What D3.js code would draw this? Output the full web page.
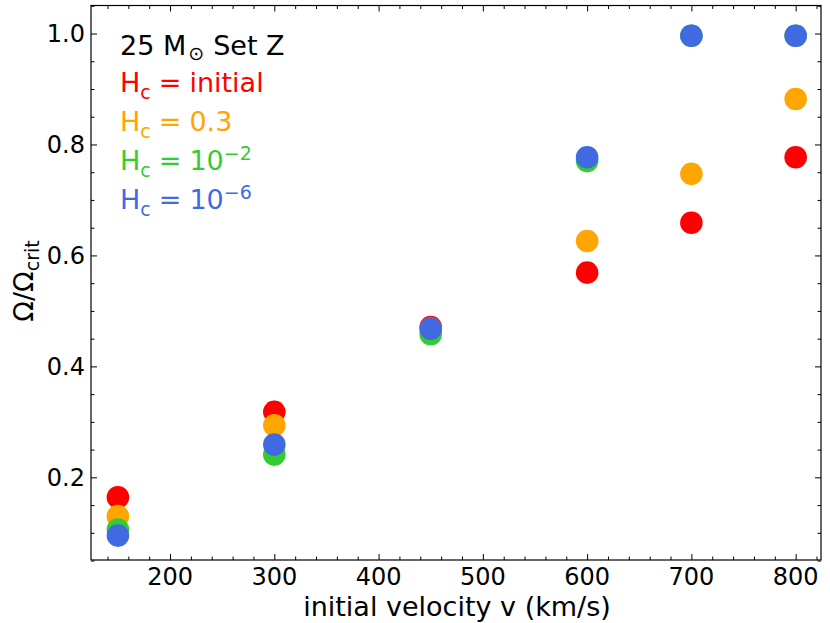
<!DOCTYPE html>
<html>
<head>
<meta charset="utf-8">
<script src="https://cdn.jsdelivr.net/npm/d3@7"></script>
<style>
  body { margin: 0; background: #fff; }
  text { font-family: "DejaVu Sans", sans-serif; }
</style>
</head>
<body>
<div id="chart"></div>
<script>
// values
const velocities = [150, 300, 450, 600, 700, 800];
const hcInitial = [0.164, 0.318, 0.471, 0.569, 0.659, 0.777];
const hc03 = [0.130, 0.294, 0.468, 0.626, 0.747, 0.882];
const hc1e2 = [0.106, 0.241, 0.458, 0.770, 0.996, 0.996];
const hc1e6 = [0.095, 0.259, 0.468, 0.777, 0.996, 0.996];
const xTicks = [200, 300, 400, 500, 600, 700, 800];
const yTicks = [0.2, 0.4, 0.6, 0.8, 1.0];

const series = [
  { vals: hcInitial, color: "#ff0000" },
  { vals: hc03, color: "#ffa500" },
  { vals: hc1e2, color: "#32cd32" },
  { vals: hc1e6, color: "#4169e1" }
];

const W = 830, H = 623;
const mLeft = 91, mRight = 821, mTop = 5.5, mBottom = 560;

const svg = d3.select("#chart").append("svg").attr("width", W).attr("height", H);

const x = d3.scaleLinear().domain([124.2, 824.3]).range([mLeft, mRight]);
const y = d3.scaleLinear().domain([0.051, 1.0505]).range([mBottom, mTop]);

const xMinor = d3.range(140, 821, 20).filter(v => v % 100 !== 0);
const yMinor = d3.range(0.05, 1.051, 0.05).map(v => +v.toFixed(2)).filter(v => Math.round(v * 100) % 20 !== 0);

// ticks inward on all four sides
function ticks(axisFn, scale, vals, size, tr) {
  const g = svg.append("g").attr("transform", tr)
    .call(axisFn(scale).tickValues(vals).tickSize(-size).tickFormat(""));
  g.select(".domain").remove();
  g.selectAll("line").attr("stroke", "#000").attr("stroke-width", 1);
}
ticks(d3.axisBottom, x, xTicks, 6, `translate(0,${mBottom})`);
ticks(d3.axisBottom, x, xMinor, 3.5, `translate(0,${mBottom})`);
ticks(d3.axisTop, x, xTicks, 6, `translate(0,${mTop})`);
ticks(d3.axisTop, x, xMinor, 3.5, `translate(0,${mTop})`);
ticks(d3.axisLeft, y, yTicks, 6, `translate(${mLeft},0)`);
ticks(d3.axisLeft, y, yMinor, 3.5, `translate(${mLeft},0)`);
ticks(d3.axisRight, y, yTicks, 6, `translate(${mRight},0)`);
ticks(d3.axisRight, y, yMinor, 3.5, `translate(${mRight},0)`);

// tick labels
svg.append("g").selectAll("text").data(xTicks).enter().append("text")
  .attr("x", d => x(d)).attr("y", 585).attr("text-anchor", "middle")
  .attr("font-size", 24).text(d => d);
svg.append("g").selectAll("text").data(yTicks).enter().append("text")
  .attr("x", 85).attr("y", d => y(d) + 8.7).attr("text-anchor", "end")
  .attr("font-size", 24).text(d => d.toFixed(1));

// points
series.forEach(s => {
  svg.append("g").selectAll("circle").data(velocities).enter().append("circle")
    .attr("cx", d => x(d)).attr("cy", (d, i) => y(s.vals[i]))
    .attr("r", 11.3).attr("fill", s.color);
});

// frame
svg.append("rect").attr("x", mLeft).attr("y", mTop)
  .attr("width", mRight - mLeft).attr("height", mBottom - mTop)
  .attr("fill", "none").attr("stroke", "#000").attr("stroke-width", 1.2);

// axis labels
svg.append("text").attr("x", 457).attr("y", 616)
  .attr("text-anchor", "middle").attr("font-size", 27)
  .text("initial velocity v (km/s)");

const yl = svg.append("text").attr("transform", "translate(33,281) rotate(-90)")
  .attr("text-anchor", "middle").attr("font-size", 27);
yl.append("tspan").text("Ω/Ω");
yl.append("tspan").attr("dy", 6).attr("font-size", 19).text("crit");

// legend text
const title = svg.append("text").attr("x", 120).attr("y", 55).attr("font-size", 27).attr("fill", "#000");
title.append("tspan").text("25 M");
title.append("tspan").attr("dx", 2).attr("dy", 5).attr("font-size", 19).text("\u2299");
title.append("tspan").attr("dx", 9).attr("dy", -5).text("Set Z");

const legend = [
  { color: "#ff0000", val: "initial", sup: null },
  { color: "#ffa500", val: "0.3", sup: null },
  { color: "#32cd32", val: "10", sup: "\u22122" },
  { color: "#4169e1", val: "10", sup: "\u22126" }
];
legend.forEach((l, i) => {
  const t = svg.append("text").attr("x", 120).attr("y", 92 + i * 39)
    .attr("font-size", 27).attr("fill", l.color);
  t.append("tspan").text("H");
  t.append("tspan").attr("dy", 7).attr("font-size", 19).text("c");
  t.append("tspan").attr("dx", 8).attr("dy", -7).text("=");
  t.append("tspan").attr("dx", 8).text(l.val);
  if (l.sup) t.append("tspan").attr("dy", -10).attr("font-size", 19).text(l.sup);
});
</script>
</body>
</html>
